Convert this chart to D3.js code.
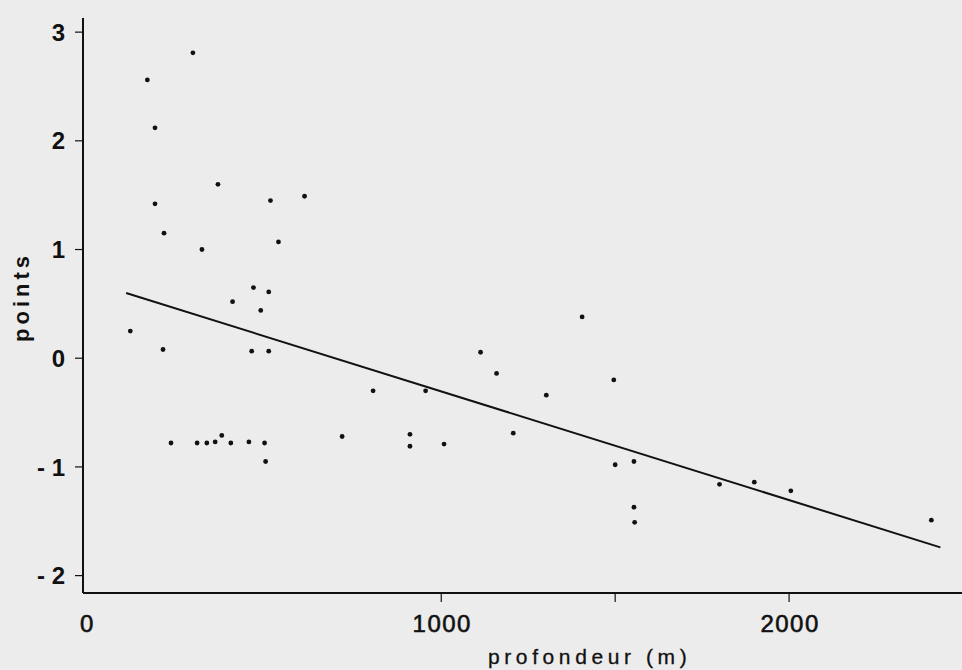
<!DOCTYPE html>
<html>
<head>
<meta charset="utf-8">
<script src="https://cdn.jsdelivr.net/npm/d3@7"></script>
<style>
  html, body { margin: 0; padding: 0; background: #ececec; }
  svg { display: block; }
  text { font-family: "Liberation Sans", Arial, sans-serif; fill: #111; }
</style>
</head>
<body>
<div id="wrapper"></div>
<script>
// profondeur (m)
const depth = [
  286, 155, 177, 358, 177, 509, 607, 203, 532, 312,
  460, 504, 400, 481, 106, 200, 455, 504,
  223, 298, 326, 350, 369, 395, 447, 492, 495,
  1405, 1113, 1159, 1496, 804, 955, 1302, 715, 910, 910, 1008, 1207, 1500, 1554,
  1554, 1556, 1800, 1900, 2005, 2409
];
// points
const score = [
  2.81, 2.56, 2.12, 1.60, 1.42, 1.45, 1.49, 1.15, 1.07, 1.00,
  0.65, 0.61, 0.52, 0.44, 0.25, 0.08, 0.065, 0.065,
  -0.78, -0.78, -0.78, -0.77, -0.71, -0.78, -0.77, -0.78, -0.95,
  0.38, 0.055, -0.14, -0.20, -0.30, -0.30, -0.34, -0.72, -0.70, -0.81, -0.79, -0.69, -0.98, -0.95,
  -1.37, -1.51, -1.16, -1.14, -1.22, -1.49
];
// droite de regression (debut, fin)
const fitX = [94, 2435];
const fitY = [0.60, -1.74];

const xTicks = [0, 1000, 2000];
const xMinorTicks = [1000, 1500, 2000];
const yTicks = [3, 2, 1, 0, -1, -2];

function draw() {
  const width = 962, height = 670;
  const svg = d3.select("#wrapper").append("svg")
    .attr("width", width)
    .attr("height", height);

  const x = d3.scaleLinear().domain([-30, 2500]).range([83, 963]);
  const y = d3.scaleLinear().domain([-2.16, 3.13]).range([593, 18]);
  const x0 = x(-30), y0 = y(-2.16);

  // axes lines
  svg.append("line")
    .attr("x1", x0).attr("x2", width)
    .attr("y1", y0).attr("y2", y0)
    .attr("stroke", "#111").attr("stroke-width", 2);
  svg.append("line")
    .attr("x1", x0).attr("x2", x0)
    .attr("y1", y(3.13)).attr("y2", y0)
    .attr("stroke", "#111").attr("stroke-width", 2);

  // y ticks
  svg.append("g").selectAll("line")
    .data(yTicks).enter().append("line")
    .attr("x1", x0 - 8).attr("x2", x0)
    .attr("y1", d => y(d)).attr("y2", d => y(d))
    .attr("stroke", "#111").attr("stroke-width", 1.2);
  svg.append("g").selectAll("text")
    .data(yTicks).enter().append("text")
    .attr("x", 65)
    .attr("y", d => y(d))
    .attr("dy", "0.36em")
    .attr("text-anchor", "end")
    .attr("font-size", 24)
    .attr("font-weight", "bold")
    .text(d => d < 0 ? "- " + Math.abs(d) : d);

  // x ticks
  svg.append("g").selectAll("line")
    .data(xMinorTicks).enter().append("line")
    .attr("x1", d => x(d)).attr("x2", d => x(d))
    .attr("y1", y0).attr("y2", y0 + 9)
    .attr("stroke", "#111").attr("stroke-width", 1.2);
  svg.append("g").selectAll("text")
    .data(xTicks).enter().append("text")
    .attr("x", d => x(d) + (d === 0 ? -6 : 1))
    .attr("y", 632)
    .attr("text-anchor", "middle")
    .attr("font-size", 24)
    .attr("letter-spacing", "1.5px")
    .attr("stroke", "#111")
    .attr("stroke-width", 0.6)
    .text(d => d);

  // titles
  svg.append("text")
    .attr("x", 488).attr("y", 664)
    .attr("font-size", 21)
    .attr("letter-spacing", "4.6px")
    .attr("stroke", "#111")
    .attr("stroke-width", 0.3)
    .text("profondeur (m)");
  svg.append("text")
    .attr("transform", "translate(29,297) rotate(-90)")
    .attr("text-anchor", "middle")
    .attr("font-size", 22)
    .attr("font-weight", "bold")
    .attr("letter-spacing", "4px")
    .text("points");

  // regression line
  const line = d3.line().x(d => x(d[0])).y(d => y(d[1]));
  svg.append("path")
    .attr("d", line(d3.zip(fitX, fitY)))
    .attr("stroke", "#111")
    .attr("stroke-width", 2)
    .attr("fill", "none");

  // points
  svg.append("g").selectAll("circle")
    .data(d3.zip(depth, score)).enter().append("circle")
    .attr("cx", d => x(d[0]))
    .attr("cy", d => y(d[1]))
    .attr("r", 2.4)
    .attr("fill", "#111");
}
draw();
</script>
</body>
</html>
